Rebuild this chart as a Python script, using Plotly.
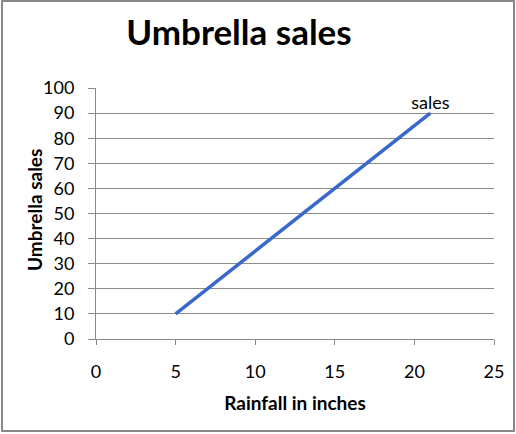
import plotly.graph_objects as go

rainfall = [5, 21]
sales = [10, 90]
series_name = "sales"
x_ticks = [0, 5, 10, 15, 20, 25]
y_ticks = [0, 10, 20, 30, 40, 50, 60, 70, 80, 90, 100]

W, H = 516, 434
L, R, T, B = 96, 494, 88, 339

fig = go.Figure()
fig.add_trace(go.Scatter(
    x=rainfall, y=sales, mode="lines+text",
    text=["", series_name], textposition="top center",
    textfont=dict(family="Lato", size=18, color="black"),
    line=dict(color="rgb(56,104,204)", width=3.5),
    showlegend=False, cliponaxis=False,
))

pw, ph = R - L, B - T
def px(x): return (x - L) / pw
def py(y): return (B - y) / ph

fig.update_layout(
    width=W, height=H,
    margin=dict(l=L, r=W - R, t=T, b=H - B),
    paper_bgcolor="white", plot_bgcolor="white",
    title=dict(text="<b>Umbrella sales</b>", x=px(239), xref="paper", xanchor="center",
               y=1 - 33 / H, yanchor="middle",
               font=dict(family="Lato", size=35, color="black")),
    xaxis=dict(range=[0, 25], tickvals=x_ticks, showgrid=False, zeroline=False,
               showline=True, linecolor="#888888", linewidth=1,
               ticks="outside", ticklen=5, tickcolor="#888888",
               ticklabelstandoff=11,
               tickfont=dict(family="Lato", size=18, color="black"),
               title=dict(text="<b>Rainfall in inches</b>", standoff=16,
                          font=dict(family="Lato", size=19, color="black"))),
    yaxis=dict(range=[0, 100], tickvals=y_ticks, showgrid=True, gridcolor="#8c8c8c",
               gridwidth=1, zeroline=False,
               showline=True, linecolor="#888888", linewidth=1,
               ticks="outside", ticklen=7, tickcolor="#888888",
               ticklabelstandoff=10,
               tickfont=dict(family="Lato", size=18, color="black")),
    annotations=[dict(text="<b>Umbrella sales</b>", textangle=-90,
                      xref="paper", yref="paper", x=px(34), y=py(210),
                      xanchor="center", yanchor="middle", showarrow=False,
                      font=dict(family="Lato", size=19, color="black"))],
    shapes=[dict(type="rect", xref="paper", yref="paper",
                 x0=px(2), x1=px(514), y0=py(431), y1=py(1),
                 line=dict(color="#888888", width=2), fillcolor="rgba(0,0,0,0)")],
)

fig.write_html("out.html")
